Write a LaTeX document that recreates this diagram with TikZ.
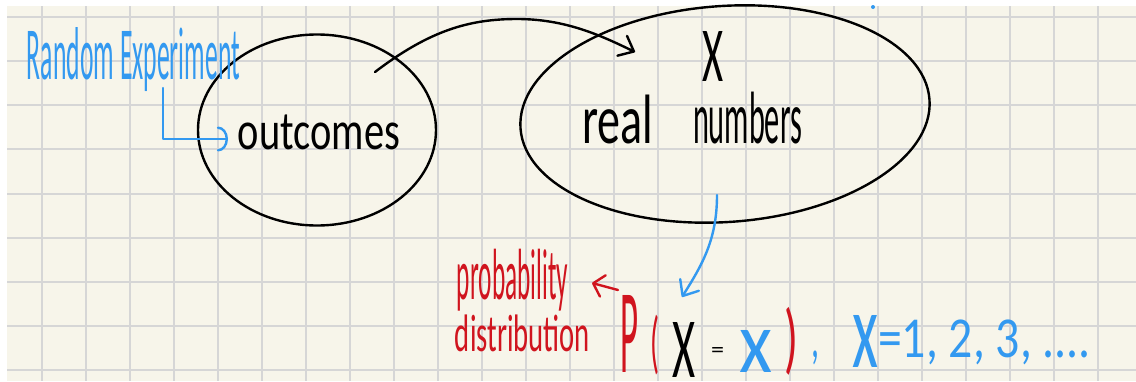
\documentclass[tikz,border=0pt]{standalone}
\usepackage{fontspec}
\setmainfont{Carlito}
\usetikzlibrary{arrows.meta,shapes.geometric}
\definecolor{paper}{HTML}{F7F5EA}
\definecolor{gridc}{HTML}{D6D6D6}
\definecolor{pblue}{HTML}{3399F0}
\definecolor{pred}{HTML}{D0141E}
\newcommand{\fitt}[3]{\resizebox*{#1pt}{#2pt}{#3}}
\begin{document}
\begin{tikzpicture}[x=1pt,y=-1pt,
  hw/.style={inner sep=0pt, outer sep=0pt},
  bubble/.style={draw=black, line width=2.4pt, ellipse, inner sep=0pt},
  ink/.style={line width=2.4pt, line cap=round, line join=round},
  vtip/.style={-{Straight Barb[length=13pt,width=22pt,round]}},
  stip/.style={-{Straight Barb[length=10pt,width=22pt,round]}},
  ctip/.style={-{Arc Barb[length=10pt,width=25pt,round]}}
]
\useasboundingbox (0,0) rectangle (1136,381);
\fill[white] (0,0) rectangle (1136,381);
\fill[paper] (7,6) rectangle (1136,381);
\foreach \i in {0,...,24} \draw[gridc, line width=2pt] ({41.7+44*\i},6) -- ({41.7+44*\i},381);
\foreach \j in {0,...,8} \draw[gridc, line width=2pt] (7,{16.7+44.2*\j}) -- (1136,{16.7+44.2*\j});

% bubbles
\node[bubble, minimum width=238pt, minimum height=191pt] (outE) at (317,130) {};
\node[bubble, minimum width=410pt, minimum height=216pt, rotate=4] (realE) at (725,114) {};

% texts
\node[hw, text=pblue] (rand) at (133.5,60) {\fitt{213}{64}{Random Experiment}};
\node[hw] (outc) at (319,132.5) {\fitt{162}{35}{outcomes}};
\node[hw] (Xtop) at (712.5,56) {\fitt{21}{50}{X}};
\node[hw, anchor=base west] (real) at (582,143) {\fitt{71}{49}{real}};
\node[hw, anchor=base west] (numb) at (693,143) {\fitt{109}{52}{numbers}};
\node[hw, text=pred] (prob) at (512.5,280) {\fitt{111}{62}{probability}};
\node[hw, text=pred] (dist) at (522.5,333.5) {\fitt{135}{37}{distribution}};
\node[hw, text=pred] (P) at (629,333.5) {\fitt{18}{77}{P}};
\node[hw, text=pred] (lp) at (655,345) {\fitt{9}{60}{(}};
\node[hw] (Xb) at (683.5,349.5) {\fitt{23}{55}{X}};
\node[hw] (eq) at (717.5,352) {\fitt{13}{10}{=}};
\node[hw, text=pblue] (xs) at (756.5,351) {\fitt{33}{42}{x}};
\node[hw, text=pred] (rp) at (791.5,341) {\fitt{14}{68}{)}};
\node[hw, text=pblue] (cm) at (815,357.5) {\fitt{8}{14}{,}};
\node[hw, text=pblue, anchor=base west] (vals) at (852,357) {\raisebox{-10pt}{\fitt{26}{52}{x}}\fitt{213}{45}{=1, 2, 3, ....}};

% connectors
\coordinate (a1s) at (375,72);
\coordinate (a1e) at (635,52);
\draw[ink, vtip] (a1s) .. controls (430,30) and (470,19) .. (517,19) .. controls (565,19) and (600,35) .. (a1e);

\coordinate (ls) at (163,88);
\coordinate (le) at (228,139);
\draw[ink, pblue, ctip] (ls) |- (le);

\coordinate (ds) at (717,195);
\coordinate (de) at (682,297);
\draw[ink, pblue, vtip] (ds) .. controls (717,240) and (702,265) .. (de);

\coordinate (rs) at (618,290);
\coordinate (re) at (592,283);
\draw[ink, pred, stip] (rs) -- (re);

\fill[pblue] (873,7) circle (2);
\end{tikzpicture}
\end{document}
